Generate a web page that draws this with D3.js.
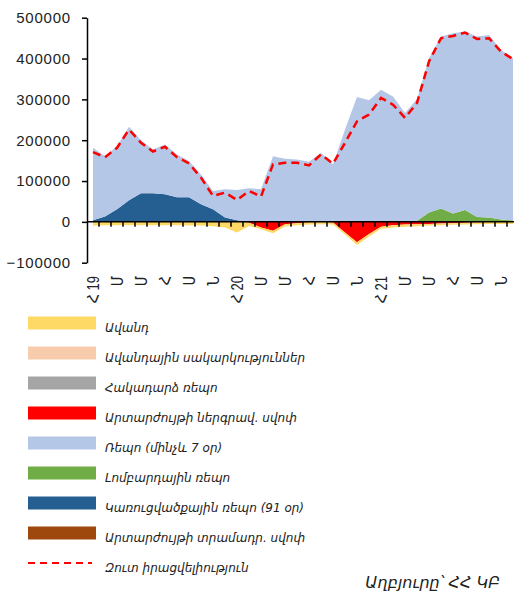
<!DOCTYPE html>
<html>
<head>
<meta charset="utf-8">
<script src="https://cdn.jsdelivr.net/npm/d3@7"></script>
<style>
  body { margin: 0; background: #fff; }
  text { font-family: "Liberation Sans", "DejaVu Sans", sans-serif; fill: #222; }
  .legend text, .source { font-family: "DejaVu Sans", sans-serif; font-style: italic; }
</style>
</head>
<body>
<svg id="chart" width="514" height="594"></svg>
<script>
// monthly, Jan 2019 - Dec 2021
var months = ['2019-01','2019-02','2019-03','2019-04','2019-05','2019-06','2019-07','2019-08','2019-09','2019-10','2019-11','2019-12',
	'2020-01','2020-02','2020-03','2020-04','2020-05','2020-06','2020-07','2020-08','2020-09','2020-10','2020-11','2020-12',
	'2021-01','2021-02','2021-03','2021-04','2021-05','2021-06','2021-07','2021-08','2021-09','2021-10','2021-11','2021-12'];
var monthLabels = ['Հ 19','','Մ','','Մ','','Հ','','Ս','','Ն','',
	'Հ 20','','Մ','','Մ','','Հ','','Ս','','Ն','',
	'Հ 21','','Մ','','Մ','','Հ','','Ս','','Ն',''];
var yTicks = [-100000, 0, 100000, 200000, 300000, 400000, 500000];

var deposit = [-9800,-8000,-8000,-8000,-8000,-8000,-8000,-8000,-9000,-9000,-11000,-13800,
	-26000,-8000,-4000,-5700,-5600,-4800,-4700,-4600,-5000,-4700,-6600,-5600,
	-5000,-5800,-5700,-4900,-4000,-4000,-4100,-4100,-4100,-3800,-4200,-4500];
var depositAuction = [0,0,0,0,0,0,0,0,0,0,0,0, 0,0,0,0,0,0,0,0,0,0,0,0, 0,0,0,0,0,0,0,0,0,0,0,0];
var reverseRepo = [0,0,0,0,0,0,0,0,0,0,0,0, 0,0,0,0,0,0,0,0,0,0,0,0, 0,0,0,0,0,0,0,0,0,0,0,0];
var swapAttract = [0,0,0,0,0,0,0,0,0,0,0,0,
	0,-2000,-13800,-21900,-5600,-3200,-1600,-1000,-1500,-26000,-50200,-30000,
	-12000,-8000,-6300,-5600,-5000,-4000,-3200,-2400,-1600,-1200,-800,-500];
var repo7 = [177400,148000,154400,179700,130000,107300,121900,105100,88800,73300,44600,69100,
	73900,82200,80000,161000,154600,152900,147300,169300,140700,226100,305800,297600,
	323700,307300,266800,298000,378100,421000,441400,436600,441500,447100,415400,397600];
var lombard = [0,0,0,0,0,0,0,0,0,0,0,0, 0,0,0,0,0,0,0,0,0,0,0,0,
	0,0,0,3000,22900,32700,20500,29300,12200,10700,5800,3400];
var structRepo = [4100,13000,31000,53000,70000,70000,67600,60000,60000,43000,31000,10700,
	4100,0,0,0,0,0,0,0,0,0,0,0, 0,0,0,0,0,0,0,0,0,0,0,0];
var swapProvide = [0,0,0,0,0,0,0,0,0,0,0,0, 0,0,0,0,0,0,0,0,0,0,0,0, 0,0,0,0,0,0,0,0,0,0,0,0];
var netLiquidity = [170700,158500,181400,226100,193600,172400,183900,158500,143200,108300,63400,71700,
	53700,75600,62000,140700,144900,144900,138300,165100,142400,193600,246300,262700,
	303400,287100,254600,291200,392700,449700,455400,463400,448000,449700,417100,398500];

var series = [
	{key: 'deposit', name: 'Ավանդ', color: '#FFD966', values: deposit},
	{key: 'depositAuction', name: 'Ավանդային սակարկություններ', color: '#F8CBAD', values: depositAuction},
	{key: 'reverseRepo', name: 'Հակադարձ ռեպո', color: '#A5A5A5', values: reverseRepo},
	{key: 'swapAttract', name: 'Արտարժույթի ներգրավ. սվոփ', color: '#FF0000', values: swapAttract},
	{key: 'repo7', name: 'Ռեպո (մինչև 7 օր)', color: '#B4C7E7', values: repo7},
	{key: 'lombard', name: 'Լոմբարդային ռեպո', color: '#70AD47', values: lombard},
	{key: 'structRepo', name: 'Կառուցվածքային ռեպո (91 օր)', color: '#255E91', values: structRepo},
	{key: 'swapProvide', name: 'Արտարժույթի տրամադր. սվոփ', color: '#9E480E', values: swapProvide}
];
var netName = 'Զուտ իրացվելիություն';

var svg = d3.select('#chart');

var x = d3.scaleBand().domain(months).range([87, 519]).padding(0);
var y = d3.scaleLinear().domain([-100000, 500000]).range([262.7, 17.7]);
var cx = d => x(d) + x.bandwidth() / 2;

var table = months.map(function(m, i) {
	var row = {month: m};
	series.forEach(s => row[s.key] = s.values[i]);
	return row;
});

// stacking order: positives grow up from 0, negatives down from 0
var stackKeys = ['structRepo', 'lombard', 'repo7', 'swapProvide', 'reverseRepo', 'depositAuction', 'swapAttract', 'deposit'];
var stacked = d3.stack().keys(stackKeys).offset(d3.stackOffsetDiverging)(table);
var colorOf = {};
series.forEach(s => colorOf[s.key] = s.color);

var area = d3.area()
	.x(d => cx(d.data.month))
	.y0(d => y(d[0]))
	.y1(d => y(d[1]));

svg.append('g').selectAll('path').data(stacked).enter().append('path')
	.attr('d', area)
	.attr('fill', d => colorOf[d.key]);

var line = d3.line()
	.x((d, i) => cx(months[i]))
	.y(d => y(d));

svg.append('path').datum(netLiquidity)
	.attr('d', line)
	.attr('fill', 'none')
	.attr('stroke', '#FF0000')
	.attr('stroke-width', 2.5)
	.attr('stroke-dasharray', '8,5');

// y axis
var yAxis = svg.append('g')
	.attr('transform', 'translate(87,0)')
	.call(d3.axisLeft(y).tickValues(yTicks).tickFormat(d3.format('d')).tickSize(5).tickSizeOuter(0).tickPadding(11));
yAxis.select('.domain').attr('stroke', '#000').attr('stroke-width', 1.5);
yAxis.selectAll('.tick line').attr('stroke', '#000').attr('stroke-width', 1.5);
yAxis.selectAll('text')
	.attr('font-size', 15)
	.attr('letter-spacing', 0.8)
	.attr('fill', '#222');

// x axis at zero
var xAxis = svg.append('g');
xAxis.append('line')
	.attr('x1', 87).attr('x2', 519)
	.attr('y1', y(0)).attr('y2', y(0))
	.attr('stroke', '#000').attr('stroke-width', 1.5);
xAxis.selectAll('.xtick').data(months.slice(1)).enter().append('line')
	.attr('x1', d => x(d)).attr('x2', d => x(d))
	.attr('y1', y(0)).attr('y2', y(0) + 5)
	.attr('stroke', '#000').attr('stroke-width', 1.5);
xAxis.selectAll('.xlabel').data(months).enter().append('text')
	.attr('transform', d => 'translate(' + cx(d) + ',276) scale(1.25,1) rotate(-90)')
	.attr('text-anchor', 'end')
	.attr('dy', '0.35em')
	.attr('font-size', 13)
	.text((d, i) => monthLabels[i]);

// legend
var legend = svg.append('g').attr('class', 'legend');
var rows = legend.selectAll('g').data(series).enter().append('g')
	.attr('transform', (d, i) => 'translate(28,' + (323 + i * 30) + ')');
rows.append('rect')
	.attr('x', 0).attr('y', -6.5)
	.attr('width', 68).attr('height', 13)
	.attr('fill', d => d.color);
rows.append('text')
	.attr('x', 77).attr('y', 9)
	.attr('font-size', 12)
	.text(d => d.name);

var netRow = legend.append('g').attr('transform', 'translate(28,' + (323 + series.length * 30) + ')');
netRow.append('line')
	.attr('x1', 0).attr('x2', 64)
	.attr('y1', 0).attr('y2', 0)
	.attr('stroke', '#FF0000').attr('stroke-width', 2)
	.attr('stroke-dasharray', '7,5');
netRow.append('text')
	.attr('x', 77).attr('y', 9)
	.attr('font-size', 12)
	.text(netName);

svg.append('text')
	.attr('class', 'source')
	.attr('x', 500).attr('y', 588)
	.attr('text-anchor', 'end')
	.attr('font-size', 16)
	.text('Աղբյուրը՝ ՀՀ ԿԲ');
</script>
</body>
</html>
